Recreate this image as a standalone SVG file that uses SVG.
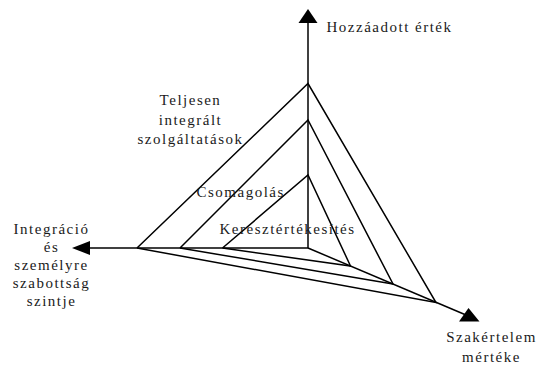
<svg xmlns="http://www.w3.org/2000/svg" width="537" height="365" viewBox="0 0 537 365">
  <style>
    .ln { stroke: #000; stroke-width: 1.5; fill: none; stroke-linejoin: miter; }
    .ah { fill: #000; stroke: none; }
    text { font-family: "Liberation Serif", "Times New Roman", serif; font-size: 15px; fill: #1a1a1a; letter-spacing: 1.5px; }
    .c { text-anchor: middle; }
  </style>
  <rect width="537" height="365" fill="#fff"/>
  <g id="connectors">
    <line class="ln" x1="308" y1="248" x2="308" y2="22"/>
    <line class="ln" x1="308" y1="248" x2="89" y2="248"/>
    <line class="ln" x1="308" y1="248" x2="466" y2="315"/>
    <polygon class="ah" points="308,9 298.5,23 317.5,23"/>
    <polygon class="ah" points="72,248 90,241 90,255"/>
    <polygon class="ah" points="468.5,308 459,321.5 479.5,321.5"/>
  </g>
  <g id="level-outer">
    <polyline class="ln" points="137,248 308,83.5 436,302.5 137,248"/>
  </g>
  <g id="level-middle">
    <polyline class="ln" points="180,248 308,120 393,284 180,248"/>
  </g>
  <g id="level-inner">
    <polyline class="ln" points="222.5,248 308,175 350.5,266 222.5,248"/>
  </g>
  <g id="label-teljesen">
    <text class="c" x="190.5" y="105">Teljesen</text>
    <text class="c" x="190.5" y="124.5">integrált</text>
    <text class="c" x="190.5" y="143.5">szolgáltatások</text>
  </g>
  <g id="label-csomagolas">
    <text x="196.5" y="196.5">Csomagolás</text>
  </g>
  <g id="label-kereszt">
    <text x="219.5" y="233.5">Keresztértékesítés</text>
  </g>
  <g id="axis-hozzaadott">
    <text x="326.5" y="31.5">Hozzáadott érték</text>
  </g>
  <g id="axis-integracio">
    <text class="c" x="51.5" y="233.5">Integráció</text>
    <text class="c" x="51.5" y="251.5">és</text>
    <text class="c" x="51.5" y="270">személyre</text>
    <text class="c" x="51.5" y="288">szabottság</text>
    <text class="c" x="51.5" y="306">szintje</text>
  </g>
  <g id="axis-szakertelem">
    <text class="c" x="491.5" y="341.5">Szakértelem</text>
    <text class="c" x="491.5" y="361.5">mértéke</text>
  </g>
</svg>
